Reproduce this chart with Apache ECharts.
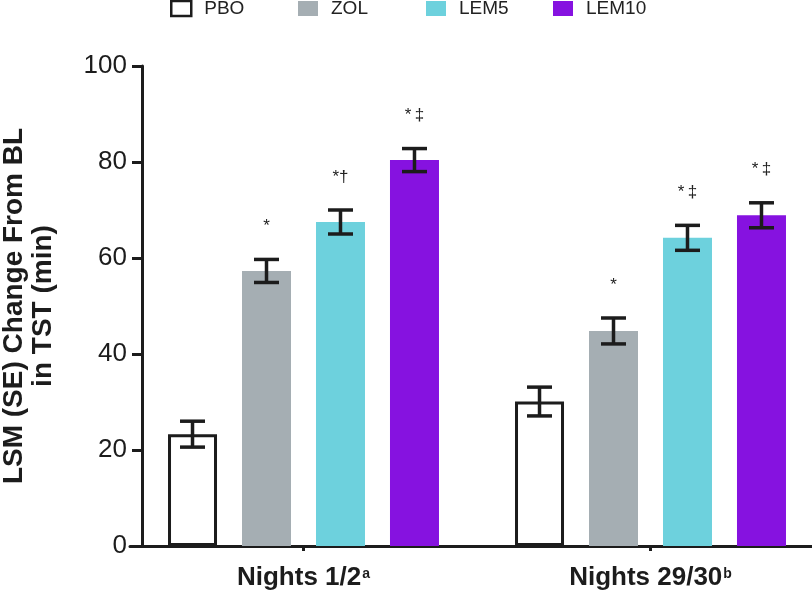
<!DOCTYPE html>
<html>
<head>
<meta charset="utf-8">
<script src="https://cdn.jsdelivr.net/npm/echarts@6/dist/echarts.min.js"></script>
<style>
  html, body { margin: 0; padding: 0; background: #fff; }
  #main { width: 812px; height: 594px; }
</style>
</head>
<body>
<div id="main"></div>
<script>
// data
var categories = ['Nights 1/2', 'Nights 29/30'];
var catSup = ['a', 'b'];
var groups = ['PBO', 'ZOL', 'LEM5', 'LEM10'];

var pbo = [23.3, 30.1];
var zol = [57.3, 44.8];
var lem5 = [67.5, 64.2];
var lem10 = [80.4, 68.9];

var pboSE = [2.7, 3.0];
var zolSE = [2.4, 2.7];
var lem5SE = [2.5, 2.6];
var lem10SE = [2.4, 2.6];

var pboMark = ['', ''];
var zolMark = ['*', '*'];
var lem5Mark = ['*†', '*\u2009‡'];
var lem10Mark = ['*\u2009‡', '*\u2009‡'];

var yMin = 0, yMax = 100, yStep = 20;

var means = [pbo, zol, lem5, lem10];
var ses = [pboSE, zolSE, lem5SE, lem10SE];
var marks = [pboMark, zolMark, lem5Mark, lem10Mark];
var colors = ['#ffffff', '#a5aeb3', '#6dd1dd', '#8612e0'];

var font = 'Liberation Sans, Arial, Helvetica, sans-serif';
var ink = '#1c1c1c';
var barW = 49;
var gapPct = 0.51;
var pitch = barW * (1 + gapPct);
var legendLeft = [170, 298, 426, 553];

var myChart = echarts.init(document.getElementById('main'));

var seData = [];
for (var s = 0; s < groups.length; s++) {
  for (var c = 0; c < categories.length; c++) {
    seData.push([c, s, means[s][c], ses[s][c]]);
  }
}

var series = groups.map(function (name, i) {
  return {
    name: name,
    type: 'bar',
    barWidth: barW,
    barGap: (gapPct * 100) + '%',
    data: means[i],
    itemStyle: i === 0 ? { color: colors[i], borderColor: ink, borderWidth: 3 } : { color: colors[i] },
    emphasis: { disabled: true }
  };
});

series.push({
  name: 'SE',
  type: 'custom',
  data: seData,
  z: 5,
  renderItem: function (params, api) {
    var c = api.value(0), s = api.value(1), m = api.value(2), e = api.value(3);
    var x = api.coord([c, 0])[0] + (s - 1.5) * pitch;
    var top = api.coord([c, m + e])[1];
    var bot = api.coord([c, m - e])[1];
    var half = 12.5;
    var ls = { stroke: ink, lineWidth: 3.5 };
    return {
      type: 'group',
      children: [
        { type: 'line', shape: { x1: x, y1: top, x2: x, y2: bot }, style: ls },
        { type: 'line', shape: { x1: x - half, y1: top, x2: x + half, y2: top }, style: ls },
        { type: 'line', shape: { x1: x - half, y1: bot, x2: x + half, y2: bot }, style: ls },
        {
          type: 'text', x: x, y: top - 33,
          style: { text: marks[s][c], fill: '#222', fontSize: 17, fontFamily: font, align: 'center', verticalAlign: 'middle' }
        }
      ]
    };
  }
});

// one legend per item so the spacing matches the figure
var legends = groups.map(function (name, i) {
  return {
    top: -1,
    left: legendLeft[i],
    padding: 0,
    icon: 'rect',
    itemWidth: 20,
    itemHeight: 15,
    selectedMode: false,
    data: [name],
    itemStyle: i === 0 ? { borderWidth: 2.5 } : {},
    textStyle: { fontSize: 19, color: '#222', fontFamily: font, padding: [0, 0, 0, 8] }
  };
});

var option = {
  animation: false,
  backgroundColor: '#fff',
  textStyle: { fontFamily: font },
  legend: legends,
  grid: {
    left: 130,
    top: 66,
    width: 694,
    height: 480,
    containLabel: false,
    outerBoundsMode: 'none'
  },
  xAxis: {
    type: 'category',
    data: categories,
    axisLine: { show: true, lineStyle: { color: ink, width: 3 } },
    axisTick: { show: true, alignWithLabel: true, length: 5, lineStyle: { color: ink, width: 3 } },
    axisLabel: {
      margin: 17,
      interval: 0,
      formatter: function (val, idx) {
        return '{n|' + val + '}{s|' + catSup[idx] + '}';
      },
      rich: {
        n: { fontSize: 26, fontWeight: 'bold', color: ink, fontFamily: font, lineHeight: 30 },
        s: { fontSize: 14, fontWeight: 'bold', color: ink, fontFamily: font, verticalAlign: 'top', lineHeight: 14, padding: [4, 0, 0, 1] }
      }
    },
    splitLine: { show: false }
  },
  yAxis: {
    type: 'value',
    min: yMin,
    max: yMax,
    interval: yStep,
    offset: -12,
    name: 'LSM (SE) Change From BL\nin TST (min)',
    nameLocation: 'middle',
    nameGap: 84,
    nameTextStyle: { fontSize: 28, fontWeight: 'bold', color: ink, fontFamily: font, lineHeight: 29 },
    axisLine: { show: true, lineStyle: { color: ink, width: 3 } },
    axisTick: { show: true, length: 10, lineStyle: { color: ink, width: 3 } },
    axisLabel: { fontSize: 26, color: ink, margin: 15, fontFamily: font },
    splitLine: { show: false }
  },
  series: series
};

myChart.setOption(option);
</script>
</body>
</html>
